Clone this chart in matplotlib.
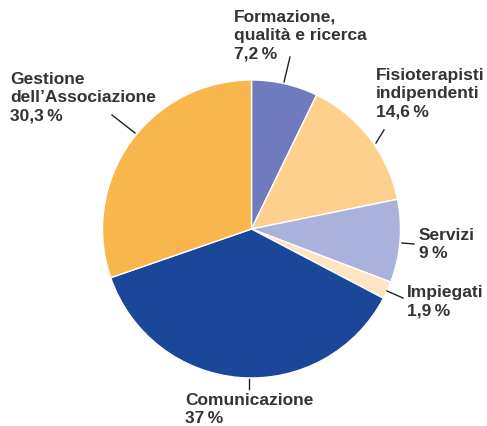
#
# python3 plot.py
#
import matplotlib
matplotlib.use("Agg")
import matplotlib.pyplot as plt

plt.rcParams['font.family'] = ['Liberation Sans', 'DejaVu Sans']

# quote in % (in senso orario dall'alto)
labels = ["Formazione,\nqualità e ricerca", "Fisioterapisti\nindipendenti",
          "Servizi", "Impiegati", "Comunicazione", "Gestione\ndell\u2019Associazione"]
values = [7.2, 14.6, 9.0, 1.9, 37.0, 30.3]
pct_text = ["7,2\u2009%", "14,6\u2009%", "9\u2009%", "1,9\u2009%", "37\u2009%", "30,3\u2009%"]
colors = ["#6f7bbd", "#fdd08e", "#aab1da", "#fde5c4", "#1b479b", "#f9b64c"]

W, H = 487, 426
# posizione testo (pixel, angolo in alto a sinistra) e linee guida
txt_pos = [(234, 10), (376, 68), (419, 228), (407, 285), (185, 393), (10, 72)]
leaders = [((290, 57), (284, 82)), ((384, 130), (376, 143)), ((402, 243), (414, 244)),
           ((387, 291), (403, 298)), ((249, 379), (249, 389)), ((112, 115), (135, 133))]

fig = plt.figure(figsize=(W / 100, H / 100), dpi=100)
ax = fig.add_axes([0, 0, 1, 1])

ax.pie(values, colors=colors, startangle=90, counterclock=False,
       center=(251.5, H - 229), radius=149,
       wedgeprops=dict(edgecolor="white", linewidth=1))

for lab, pct, (x, y) in zip(labels, pct_text, txt_pos):
    ax.text(x, H - y, lab + "\n" + pct, ha="left", va="top", fontsize=12.5,
            fontweight="bold", color="#333333", linespacing=1.26)

for (p1, p2) in leaders:
    ax.plot([p1[0], p2[0]], [H - p1[1], H - p2[1]], color="#222222", linewidth=1)

ax.set_xlim(0, W)
ax.set_ylim(0, H)
ax.set_aspect("auto")
ax.axis("off")

plt.savefig("out.png", dpi=100)
